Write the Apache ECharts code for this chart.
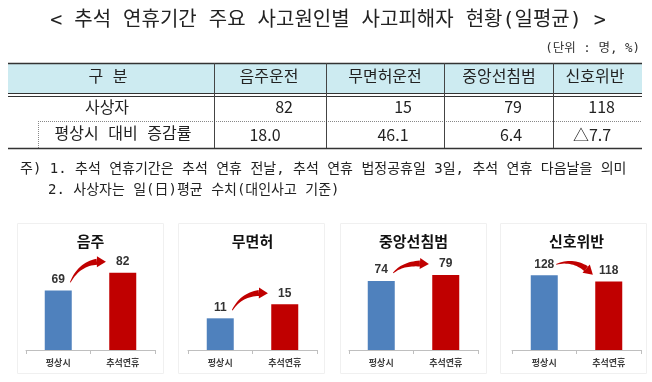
<!DOCTYPE html>
<html><head><meta charset="utf-8">
<script src="https://cdn.jsdelivr.net/npm/echarts@6/dist/echarts.min.js"></script>
<style>html,body{margin:0;padding:0;background:#fff}#c{width:652px;height:382px}</style>
</head><body><div id="c"></div>
<script>
// ---- data ----
const mainTitle = '< 추석 연휴기간 주요 사고원인별 사고피해자 현황(일평균) >';
const unitText = '(단위 : 명, %)';
const tableHeaders = ['구 분', '음주운전', '무면허운전', '중앙선침범', '신호위반'];
const rowLabels = ['사상자', '평상시 대비 증감률'];
const casualties = ['82', '15', '79', '118'];
const changeRates = ['18.0', '46.1', '6.4', '△7.7'];
const notes = ['주) 1. 추석 연휴기간은 추석 연휴 전날, 추석 연휴 법정공휴일 3일, 추석 연휴 다음날을 의미',
               '2. 사상자는 일(日)평균 수치(대인사고 기준)'];
const chartTitles = ['음주', '무면허', '중앙선침범', '신호위반'];
const categories = ['평상시', '추석연휴'];
const normalValues = [69, 11, 74, 128];
const holidayValues = [82, 15, 79, 118];
const axisMin = [25, 2, 16, 5];
const axisMax = [90, 27, 90, 150];

// ---- layout ----
const FONT = '"Noto Sans CJK KR", "Noto Sans", sans-serif';
const WFONT = '"DejaVu Sans Mono", "Noto Sans CJK KR", sans-serif';
const gridLefts = [26, 188, 349, 512];
const gridW = 129, gridTop = 262, gridH = 88;
const BLUE = '#4F81BD', RED = '#C00000';

const chart = echarts.init(document.getElementById('c'), null, {renderer: 'canvas'});

const grids = [], xAxes = [], yAxes = [], series = [];
for (let i = 0; i < 4; i++) {
  grids.push({left: gridLefts[i], top: gridTop, width: gridW, height: gridH});
  xAxes.push({
    type: 'category', gridIndex: i, data: categories,
    axisLine: {lineStyle: {color: '#BFBFBF', width: 1}},
    axisTick: {show: true, length: 4, lineStyle: {color: '#BFBFBF'}},
    axisLabel: {fontSize: 9, color: '#404040', fontFamily: FONT, margin: 8, fontWeight: 'bold'}
  });
  yAxes.push({type: 'value', gridIndex: i, min: axisMin[i], max: axisMax[i], show: false, splitLine: {show: false}});
  series.push({
    type: 'bar', xAxisIndex: i, yAxisIndex: i, barWidth: 27,
    data: [{value: normalValues[i], itemStyle: {color: BLUE}}, {value: holidayValues[i], itemStyle: {color: RED}}],
    label: {show: true, position: 'top', distance: 5, fontSize: 12, fontWeight: 'bold', color: '#333', fontFamily: 'Liberation Sans, Arial, sans-serif'},
    silent: true, animation: false
  });
}
chart.setOption({animation: false, grid: grids, xAxis: xAxes, yAxis: yAxes, series: series});

// ---- graphics ----
const g = [];
function text(x, y, t, size, opts) {
  opts = opts || {};
  g.push({type: 'text', x: x, y: y, z: 20, style: {text: t, font: (opts.weight || 'normal') + ' ' + size + 'px ' + (opts.family || FONT),
    fill: opts.color || '#222', textAlign: opts.align || 'center', textVerticalAlign: 'middle'}});
}
function line(x1, y1, x2, y2, color, w, dash) {
  g.push({type: 'line', z: 15, shape: {x1: x1, y1: y1, x2: x2, y2: y2}, style: {stroke: color, lineWidth: w, lineDash: dash || null}});
}
// title
text(328, 21, mainTitle, 20, {family: WFONT});
text(640, 49, unitText, 12.5, {align: 'right', color: '#333', family: WFONT});
// table
const tL = 8, tR = 642, hTop = 63, hBot = 93, r1Bot = 121, r2Bot = 148;
const colX = [tL, 214, 326, 444, 553, tR];
g.push({type: 'rect', z: 10, shape: {x: tL, y: hTop, width: tR - tL, height: hBot - hTop}, style: {fill: '#CDEBF1'}});
line(tL, hTop + 0.5, tR, hTop + 0.5, '#333', 1.5);
line(tL, hBot + 0.5, tR, hBot + 0.5, '#333', 1);
line(tL, hBot + 3.5, tR, hBot + 3.5, '#333', 1);
line(38, r1Bot + 0.5, tR, r1Bot + 0.5, '#888', 1, [1, 1]);
line(38.5, r1Bot, 38.5, r2Bot, '#888', 1, [1, 1]);
line(tL, r2Bot + 0.5, tR, r2Bot + 0.5, '#333', 1.5);
for (let k = 1; k <= 4; k++) line(colX[k] + 0.5, hTop, colX[k] + 0.5, r2Bot, '#444', 1);
const hdrCenters = [108, 269, 385, 499, 595];
for (let k = 0; k < 5; k++) text(hdrCenters[k], 78, tableHeaders[k], 16, {family: WFONT});
text(107, 107, rowLabels[0], 16);
text(123, 135, rowLabels[1], 16, {family: WFONT});
const r1Right = [293, 412, 522, 615];
const r2Center = [265, 393, 511, 592];
for (let k = 0; k < 4; k++) {
  text(r1Right[k], 107, casualties[k], 16, {align: 'right'});
  text(r2Center[k], 135, changeRates[k], 16);
}
// notes
text(20, 169, notes[0], 14, {align: 'left', family: WFONT});
text(48, 190, notes[1], 14, {align: 'left', family: WFONT});
// panels
const panelX = [17, 178, 340, 500];
for (let i = 0; i < 4; i++) {
  g.push({type: 'rect', z: -5, shape: {x: panelX[i] + 0.5, y: 223.5, width: 146, height: 150}, style: {fill: 'none', stroke: '#F0F0F0', lineWidth: 1}});
  text(gridLefts[i] + gridW / 2, 241, chartTitles[i], 15, {weight: 'bold', color: '#111'});
}
// arrows, positioned from the bar tops via the axes
function quad(p0, c, p2, t) {
  const a = (1 - t) * (1 - t), b = 2 * (1 - t) * t, d = t * t;
  return [a * p0[0] + b * c[0] + d * p2[0], a * p0[1] + b * c[1] + d * p2[1]];
}
function quadD(p0, c, p2, t) {
  return [2 * (1 - t) * (c[0] - p0[0]) + 2 * t * (p2[0] - c[0]), 2 * (1 - t) * (c[1] - p0[1]) + 2 * t * (p2[1] - c[1])];
}
for (let i = 0; i < 4; i++) {
  const b = chart.convertToPixel({gridIndex: i}, [0, normalValues[i]]);
  const r = chart.convertToPixel({gridIndex: i}, [1, holidayValues[i]]);
  const up = holidayValues[i] >= normalValues[i];
  const S = [b[0] + 12, b[1] - (up ? 8 : 11)];
  const E = [r[0] - 15, r[1] - (up ? 11 : 6)];
  const dx = E[0] - S[0];
  const C = up ? [S[0] + 0.3 * dx, E[1] - 3] : [S[0] + 0.55 * dx, S[1] - 7];
  const tH = 0.78;
  const left = [], right = [];
  const N = 16;
  for (let k = 0; k <= N; k++) {
    const t = tH * k / N;
    const p = quad(S, C, E, t), d = quadD(S, C, E, t);
    const L = Math.hypot(d[0], d[1]);
    const n = [-d[1] / L, d[0] / L];
    const w = 0.4 + 2.6 * (k / N);
    left.push([p[0] + n[0] * w, p[1] + n[1] * w]);
    right.unshift([p[0] - n[0] * w, p[1] - n[1] * w]);
  }
  g.push({type: 'polygon', z: 30, shape: {points: left.concat(right)}, style: {fill: '#C00000'}});
  const B = quad(S, C, E, tH);
  const dv = [E[0] - B[0], E[1] - B[1]];
  const L = Math.hypot(dv[0], dv[1]);
  const u = [dv[0] / L, dv[1] / L], n = [-u[1], u[0]];
  const hw = 5.5, hl = 9;
  const T = [B[0] + u[0] * hl, B[1] + u[1] * hl];
  g.push({type: 'polygon', z: 30, shape: {points: [[B[0] + n[0] * hw, B[1] + n[1] * hw], T, [B[0] - n[0] * hw, B[1] - n[1] * hw]]}, style: {fill: '#C00000'}});
}
chart.setOption({graphic: {elements: g}});
</script></body></html>
